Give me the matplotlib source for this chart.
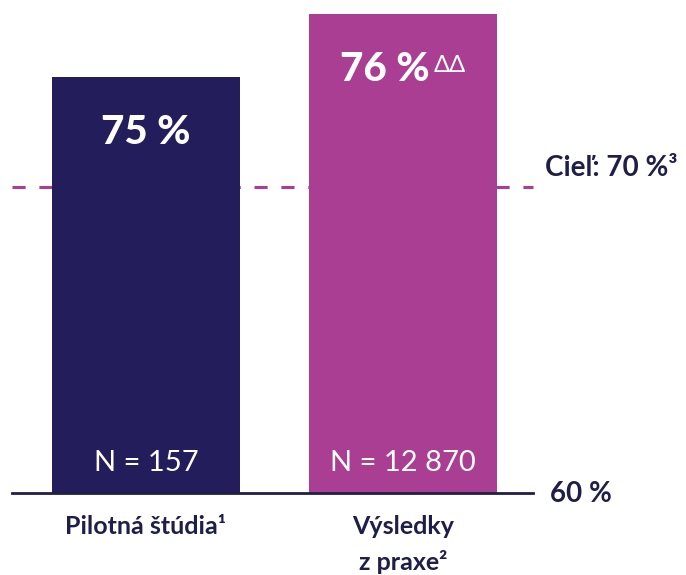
import numpy as np
import matplotlib.pyplot as plt

plt.rcParams['font.family'] = ['Lato', 'DejaVu Sans']

# data
categories = ['Pilotná štúdia¹', 'Výsledky\nz praxe²']
bar_heights = [73.6, 75.65]          # drawn heights (chart not to scale)
value_labels = ['75 %', '76 %']
value_marks = ['', 'ΔΔ']
n_labels = ['N = 157', 'N = 12 870']
target = 70
base = 60

colors = ['#231E5B', '#AA3E93']
navy = '#1E1F48'

fig = plt.figure(figsize=(6.86, 5.75), dpi=100)
ax = fig.add_axes([0, 0, 1, 1])
ax.set_xlim(-0.568, 2.101)
ax.set_ylim(57.32, 76.11)
ax.axis('off')

x = np.arange(len(categories))
ax.bar(x, np.array(bar_heights) - base, bottom=base, width=0.728,
       color=colors, zorder=2)

# target line behind the bars
ax.plot([-0.521, 1.506], [target, target], ls=(0, (4.3, 4.5)), lw=2.2,
        color='#AA3E93', zorder=1)
ax.plot([-0.521, 1.506], [base, base], lw=2, color=navy, zorder=3)

ax.text(1.553, target + 0.62, 'Cieľ: 70 %³', fontsize=20, fontweight='bold',
        color=navy, ha='left', va='center')
ax.text(1.572, base - 0.03, '60 %', fontsize=20, fontweight='bold',
        color=navy, ha='left', va='center')

for i in range(len(x)):
    shift = -13 if value_marks[i] else 0
    t = ax.annotate(value_labels[i], xy=(x[i], bar_heights[i]),
                    xytext=(shift, -40), textcoords='offset points',
                    fontsize=29, fontweight='black', color='white',
                    ha='center', va='center')
    if value_marks[i]:
        ax.annotate(value_marks[i], xy=(1, 1), xycoords=t,
                    xytext=(3, -3), textcoords='offset points',
                    fontsize=17, color='white', ha='left', va='top')
    ax.text(x[i], base + 0.98, n_labels[i], fontsize=21, fontweight='normal',
            color='white', ha='center', va='center')

ax.text(x[0], base - 1.08, categories[0], fontsize=18, fontweight='bold',
        color=navy, ha='center', va='center')
lines = categories[1].split('\n')
ax.text(x[1], base - 1.08, lines[0], fontsize=18, fontweight='bold',
        color=navy, ha='center', va='center')
ax.text(x[1], base - 2.25, lines[1], fontsize=18, fontweight='bold',
        color=navy, ha='center', va='center')

fig.savefig('out.png', dpi=100)
